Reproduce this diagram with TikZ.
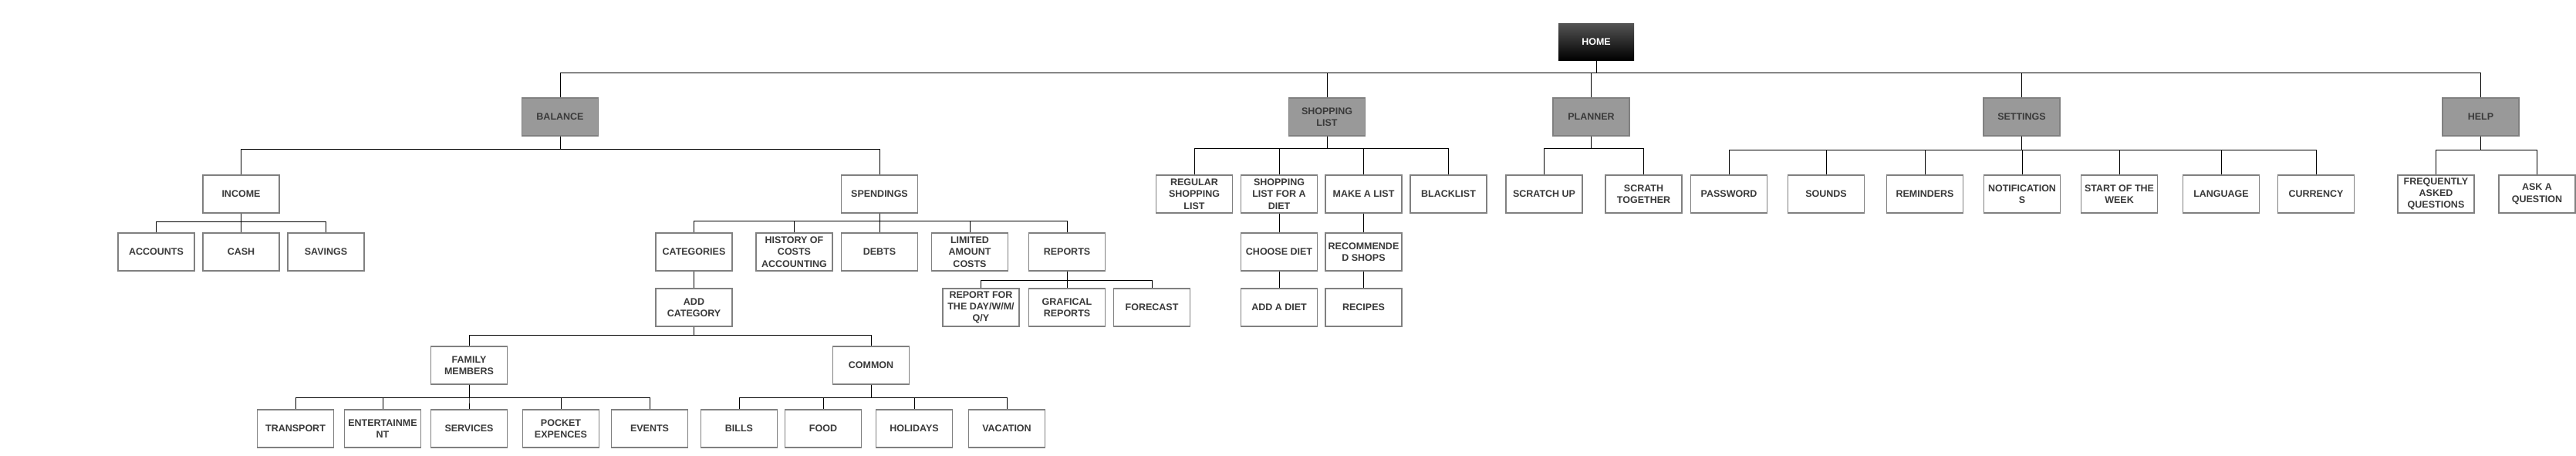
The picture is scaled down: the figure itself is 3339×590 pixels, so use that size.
\documentclass[tikz,border=0pt]{standalone}
\usepackage{fontspec}
\setmainfont{Liberation Sans}
\definecolor{boxline}{HTML}{808080}
\definecolor{headfill}{HTML}{999999}
\definecolor{labeltext}{HTML}{3A3A3A}

\begin{document}
\begin{tikzpicture}[x=1pt, y=-1pt,
    every node/.style={font=\bfseries\fontsize{12.5}{15.3}\selectfont, text=labeltext, align=center, inner sep=0pt},
    item/.style={draw=boxline, line width=1.3pt, fill=white, minimum width=99pt, minimum height=49pt},
    head/.style={item, fill=headfill},
    link/.style={line width=1pt, black}]
    \useasboundingbox (0,0) rectangle (3339,590);

    % root
    \node[minimum width=98pt, minimum height=48pt, top color=black!67, bottom color=black, text=white] (home) at (2069,54) {HOME};

    % main sections
    \node[head] (balance) at (726,151.5) {BALANCE};
    \node[head] (shop) at (1720,151.5) {SHOPPING\\LIST};
    \node[head] (planner) at (2062.5,151.5) {PLANNER};
    \node[head] (settings) at (2620.5,151.5) {SETTINGS};
    \node[head] (help) at (3215.5,151.5) {HELP};

    % balance - income
    \node[item] (income) at (312.5,251.5) {INCOME};
    \node[item] (accounts) at (202.5,326.5) {ACCOUNTS};
    \node[item] (cash) at (312.5,326.5) {CASH};
    \node[item] (savings) at (422.5,326.5) {SAVINGS};

    % balance - spendings
    \node[item] (spend) at (1140,251.5) {SPENDINGS};
    \node[item] (categories) at (899.5,326.5) {CATEGORIES};
    \node[item] (history) at (1029.5,326.5) {HISTORY OF\\COSTS\\ACCOUNTING};
    \node[item] (debts) at (1140,326.5) {DEBTS};
    \node[item] (limited) at (1257,326.5) {LIMITED\\AMOUNT\\COSTS};
    \node[item] (reports) at (1383,326.5) {REPORTS};
    \node[item] (addcat) at (899.5,398.5) {ADD\\CATEGORY};
    \node[item] (reportday) at (1271.5,398.5) {REPORT FOR\\THE DAY/W/M/\\Q/Y};
    \node[item] (grafical) at (1383,398.5) {GRAFICAL\\REPORTS};
    \node[item] (forecast) at (1493,398.5) {FORECAST};
    \node[item] (family) at (608,473.5) {FAMILY\\MEMBERS};
    \node[item] (common) at (1129,473.5) {COMMON};
    \node[item] (transport) at (383,555.5) {TRANSPORT};
    \node[item] (entertain) at (496,555.5) {ENTERTAINME\\NT};
    \node[item] (services) at (608,555.5) {SERVICES};
    \node[item] (pocket) at (727,555.5) {POCKET\\EXPENCES};
    \node[item] (events) at (842,555.5) {EVENTS};
    \node[item] (bills) at (958,555.5) {BILLS};
    \node[item] (food) at (1067,555.5) {FOOD};
    \node[item] (holidays) at (1185,555.5) {HOLIDAYS};
    \node[item] (vacation) at (1305,555.5) {VACATION};

    % shopping list
    \node[item] (regular) at (1548,251.5) {REGULAR\\SHOPPING\\LIST};
    \node[item] (shopdiet) at (1658,251.5) {SHOPPING\\LIST FOR A\\DIET};
    \node[item] (makelist) at (1767.5,251.5) {MAKE A LIST};
    \node[item] (blacklist) at (1877.5,251.5) {BLACKLIST};
    \node[item] (choosediet) at (1658,326.5) {CHOOSE DIET};
    \node[item] (recshops) at (1767.5,326.5) {RECOMMENDE\\D SHOPS};
    \node[item] (adddiet) at (1658,398.5) {ADD A DIET};
    \node[item] (recipes) at (1767.5,398.5) {RECIPES};

    % planner
    \node[item] (scratchup) at (2001.5,251.5) {SCRATCH UP};
    \node[item] (scrathtog) at (2130.5,251.5) {SCRATH\\TOGETHER};

    % settings
    \node[item] (password) at (2241,251.5) {PASSWORD};
    \node[item] (sounds) at (2367,251.5) {SOUNDS};
    \node[item] (reminders) at (2495,251.5) {REMINDERS};
    \node[item] (notif) at (2621,251.5) {NOTIFICATION\\S};
    \node[item] (startweek) at (2747,251.5) {START OF THE\\WEEK};
    \node[item] (language) at (2879,251.5) {LANGUAGE};
    \node[item] (currency) at (3002,251.5) {CURRENCY};

    % help
    \node[item] (faq) at (3157.5,251.5) {FREQUENTLY\\ASKED\\QUESTIONS};
    \node[item] (ask) at (3288.5,251.5) {ASK A\\QUESTION};

    % connectors: home
    \draw[link] (home.south) -- ++(0,16) -| (balance.north);
    \draw[link] (home.south) -- ++(0,16) -| (shop.north);
    \draw[link] (home.south) -- ++(0,16) -| (planner.north);
    \draw[link] (home.south) -- ++(0,16) -| (settings.north);
    \draw[link] (home.south) -- ++(0,16) -| (help.north);

    % connectors: balance
    \draw[link] (balance.south) -- ++(0,17) -| (income.north);
    \draw[link] (balance.south) -- ++(0,17) -| (spend.north);
    \draw[link] (income.south) -- ++(0,11) -| (accounts.north);
    \draw[link] (income.south) -- ++(0,11) -| (cash.north);
    \draw[link] (income.south) -- ++(0,11) -| (savings.north);
    \draw[link] (spend.south) -- ++(0,10) -| (categories.north);
    \draw[link] (spend.south) -- ++(0,10) -| (history.north);
    \draw[link] (spend.south) -- ++(0,10) -| (debts.north);
    \draw[link] (spend.south) -- ++(0,10) -| (limited.north);
    \draw[link] (spend.south) -- ++(0,10) -| (reports.north);
    \draw[link] (categories) -- (addcat);
    \draw[link] (reports.south) -- ++(0,12) -| (reportday.north);
    \draw[link] (reports.south) -- ++(0,12) -| (grafical.north);
    \draw[link] (reports.south) -- ++(0,12) -| (forecast.north);
    \draw[link] (addcat.south) -- ++(0,11) -| (family.north);
    \draw[link] (addcat.south) -- ++(0,11) -| (common.north);
    \draw[link] (family.south) -- ++(0,17) -| (transport.north);
    \draw[link] (family.south) -- ++(0,17) -| (entertain.north);
    \draw[link] (family.south) -- ++(0,17) -| (services.north);
    \draw[link] (family.south) -- ++(0,17) -| (pocket.north);
    \draw[link] (family.south) -- ++(0,17) -| (events.north);
    \draw[link] (common.south) -- ++(0,17) -| (bills.north);
    \draw[link] (common.south) -- ++(0,17) -| (food.north);
    \draw[link] (common.south) -- ++(0,17) -| (holidays.north);
    \draw[link] (common.south) -- ++(0,17) -| (vacation.north);

    % connectors: shopping list
    \draw[link] (shop.south) -- ++(0,16) -| (regular.north);
    \draw[link] (shop.south) -- ++(0,16) -| (shopdiet.north);
    \draw[link] (shop.south) -- ++(0,16) -| (makelist.north);
    \draw[link] (shop.south) -- ++(0,16) -| (blacklist.north);
    \draw[link] (shopdiet) -- (choosediet);
    \draw[link] (choosediet) -- (adddiet);
    \draw[link] (makelist) -- (recshops);
    \draw[link] (recshops) -- (recipes);

    % connectors: planner, settings, help
    \draw[link] (planner.south) -- ++(0,16) -| (scratchup.north);
    \draw[link] (planner.south) -- ++(0,16) -| (scrathtog.north);
    \draw[link] (settings.south) -- ++(0,18) -| (password.north);
    \draw[link] (settings.south) -- ++(0,18) -| (sounds.north);
    \draw[link] (settings.south) -- ++(0,18) -| (reminders.north);
    \draw[link] (settings.south) -- ++(0,18) -| (notif.north);
    \draw[link] (settings.south) -- ++(0,18) -| (startweek.north);
    \draw[link] (settings.south) -- ++(0,18) -| (language.north);
    \draw[link] (settings.south) -- ++(0,18) -| (currency.north);
    \draw[link] (help.south) -- ++(0,18) -| (faq.north);
    \draw[link] (help.south) -- ++(0,18) -| (ask.north);
\end{tikzpicture}
\end{document}
